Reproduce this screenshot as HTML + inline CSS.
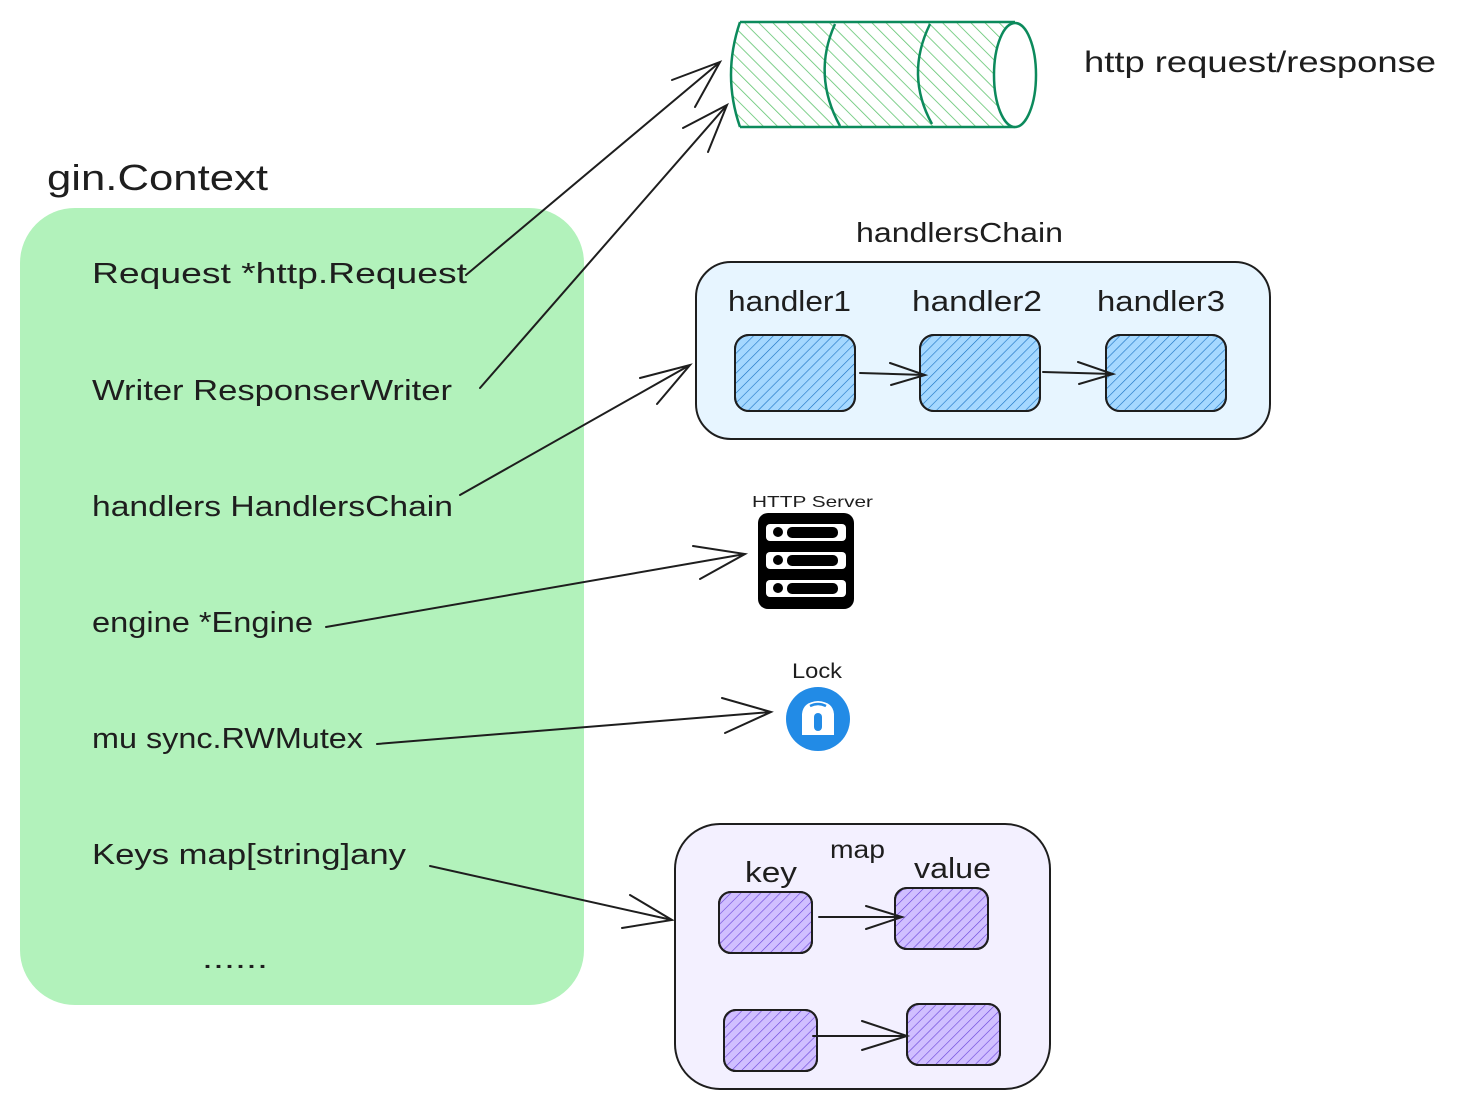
<!DOCTYPE html>
<html><head><meta charset="utf-8"><style>
html,body{margin:0;padding:0;background:#fff}
svg{display:block}
text{font-family:"Liberation Sans",sans-serif;fill:#1e1e1e}
</style></head><body>
<svg width="1457" height="1110" viewBox="0 0 1457 1110" xmlns="http://www.w3.org/2000/svg">
<defs>
<pattern id="hg" width="10" height="10" patternUnits="userSpaceOnUse" patternTransform="rotate(-45)"><line x1="0" y1="0" x2="0" y2="10" stroke="#5fc46f" stroke-width="1.6"/></pattern>
<pattern id="hb" width="7" height="7" patternUnits="userSpaceOnUse" patternTransform="rotate(45)"><line x1="0" y1="0" x2="0" y2="7" stroke="#1971c2" stroke-width="1.2"/></pattern>
<pattern id="hp" width="7" height="7" patternUnits="userSpaceOnUse" patternTransform="rotate(45)"><line x1="0" y1="0" x2="0" y2="7" stroke="#6741d9" stroke-width="1.2"/></pattern>
</defs>

<text x="47" y="190" font-size="36" textLength="221" lengthAdjust="spacingAndGlyphs">gin.Context</text>
<rect x="20" y="208" width="564" height="797" rx="55" fill="#b2f2bb"/>
<g font-size="29">
<text x="92" y="283" textLength="375" lengthAdjust="spacingAndGlyphs">Request  *http.Request</text>
<text x="92" y="400" textLength="360" lengthAdjust="spacingAndGlyphs">Writer ResponserWriter</text>
<text x="92" y="516" textLength="361" lengthAdjust="spacingAndGlyphs">handlers  HandlersChain</text>
<text x="92" y="632" textLength="221" lengthAdjust="spacingAndGlyphs">engine *Engine</text>
<text x="92" y="748" textLength="271" lengthAdjust="spacingAndGlyphs">mu sync.RWMutex</text>
<text x="92" y="864" textLength="314" lengthAdjust="spacingAndGlyphs">Keys map[string]any</text>
<text x="202" y="968" textLength="66" lengthAdjust="spacingAndGlyphs">......</text>
</g>

<path d="M740 22 H1015 V127 H740 Z" fill="url(#hg)"/>
<path d="M740 22 Q722 75 740 127" fill="url(#hg)" stroke="#0c8a5c" stroke-width="2.5"/>
<path d="M740 22 H1015 M740 127 H1015" stroke="#0c8a5c" stroke-width="2.5" fill="none"/>
<path d="M835 24 Q812 75 840 126" stroke="#0c8a5c" stroke-width="2.5" fill="none"/>
<path d="M930 24 Q905 75 932 124" stroke="#0c8a5c" stroke-width="2.5" fill="none"/>
<ellipse cx="1015" cy="75" rx="21" ry="52" fill="#fff" stroke="#0c8a5c" stroke-width="2.5"/>
<text x="1084" y="72" font-size="30" textLength="352" lengthAdjust="spacingAndGlyphs">http request/response</text>

<text x="856" y="242" font-size="28" textLength="207" lengthAdjust="spacingAndGlyphs">handlersChain</text>
<rect x="696" y="262" width="574" height="177" rx="35" fill="#e7f5ff" stroke="#1e1e1e" stroke-width="2"/>
<g font-size="29">
<text x="728" y="311" textLength="123" lengthAdjust="spacingAndGlyphs">handler1</text>
<text x="912" y="311" textLength="130" lengthAdjust="spacingAndGlyphs">handler2</text>
<text x="1097" y="311" textLength="128" lengthAdjust="spacingAndGlyphs">handler3</text>
</g>
<g stroke="#1e1e1e" stroke-width="2">
<rect x="735" y="335" width="120" height="76" rx="14" fill="#a5d8ff"/>
<rect x="735" y="335" width="120" height="76" rx="14" fill="url(#hb)"/>
<rect x="920" y="335" width="120" height="76" rx="14" fill="#a5d8ff"/>
<rect x="920" y="335" width="120" height="76" rx="14" fill="url(#hb)"/>
<rect x="1106" y="335" width="120" height="76" rx="14" fill="#a5d8ff"/>
<rect x="1106" y="335" width="120" height="76" rx="14" fill="url(#hb)"/>
</g>

<text x="752" y="507" font-size="16" textLength="121" lengthAdjust="spacingAndGlyphs">HTTP Server</text>
<g>
<rect x="758" y="513" width="96" height="96" rx="10" fill="#000"/>
<rect x="766" y="524" width="80" height="17" rx="4" fill="#fff"/>
<rect x="766" y="552" width="80" height="17" rx="4" fill="#fff"/>
<rect x="766" y="580" width="80" height="17" rx="4" fill="#fff"/>
<g fill="#000"><circle cx="778" cy="532" r="5"/><circle cx="778" cy="560" r="5"/><circle cx="778" cy="588" r="5"/>
<rect x="787" y="527" width="51" height="11" rx="5"/><rect x="787" y="555" width="51" height="11" rx="5"/><rect x="787" y="583" width="51" height="11" rx="5"/></g>
</g>

<text x="792" y="678" font-size="21" textLength="50" lengthAdjust="spacingAndGlyphs">Lock</text>
<circle cx="818" cy="719" r="32" fill="#228be6"/>
<path d="M802 735 V714 Q803 702 818 701 Q833 702 834 714 V735 Z" fill="#fff"/>
<rect x="814" y="713" width="8" height="18" rx="4" fill="#228be6"/>
<path d="M810 706 Q818 702 826 706" stroke="#228be6" stroke-width="2.5" fill="none"/>

<rect x="675" y="824" width="375" height="265" rx="45" fill="#f3f0ff" stroke="#1e1e1e" stroke-width="2"/>
<text x="830" y="858" font-size="25" textLength="55" lengthAdjust="spacingAndGlyphs">map</text>
<text x="745" y="882" font-size="29" textLength="52" lengthAdjust="spacingAndGlyphs">key</text>
<text x="914" y="878" font-size="29" textLength="77" lengthAdjust="spacingAndGlyphs">value</text>
<g stroke="#1e1e1e" stroke-width="2">
<rect x="719" y="892" width="93" height="61" rx="12" fill="#d0bfff"/>
<rect x="719" y="892" width="93" height="61" rx="12" fill="url(#hp)"/>
<rect x="895" y="888" width="93" height="61" rx="12" fill="#d0bfff"/>
<rect x="895" y="888" width="93" height="61" rx="12" fill="url(#hp)"/>
<rect x="724" y="1010" width="93" height="61" rx="12" fill="#d0bfff"/>
<rect x="724" y="1010" width="93" height="61" rx="12" fill="url(#hp)"/>
<rect x="907" y="1004" width="93" height="61" rx="12" fill="#d0bfff"/>
<rect x="907" y="1004" width="93" height="61" rx="12" fill="url(#hp)"/>
</g>

<g stroke="#1e1e1e" stroke-width="2" fill="none" stroke-linecap="round">
<path d="M466 275 L720 62 M672 80 L720 62 L695 107"/>
<path d="M480 388 L727 105 M683 128 L727 105 L708 152"/>
<path d="M460 495 L690 365 M640 378 L690 365 L657 404"/>
<path d="M326 627 L745 554 M693 546 L745 554 L700 579"/>
<path d="M377 744 L771 712 M722 698 L771 712 L725 733"/>
<path d="M430 866 L672 920 M630 895 L672 920 L622 928"/>
<path d="M860 373 L925 375 M890 363 L925 375 L891 385"/>
<path d="M1043 372 L1113 374 M1078 362 L1113 374 L1079 384"/>
<path d="M819 917 L902 917 M866 906 L902 917 L866 929"/>
<path d="M813 1036 L907 1036 M862 1021 L907 1036 L862 1050"/>
</g>
</svg>
</body></html>
